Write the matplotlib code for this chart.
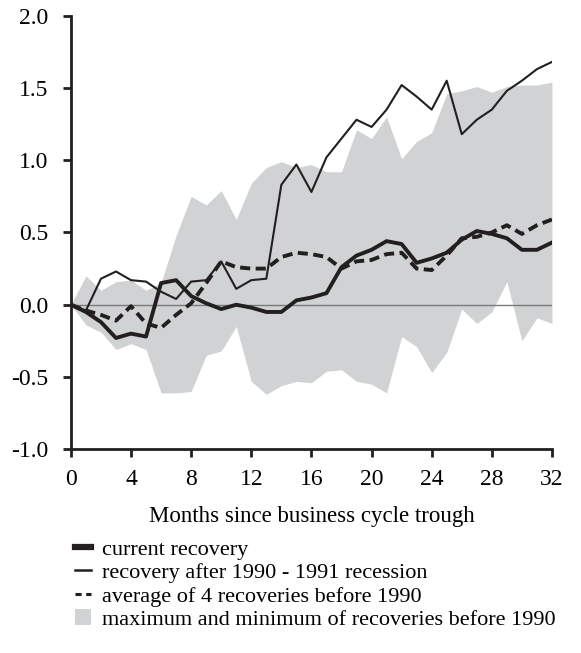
import matplotlib.pyplot as plt
from matplotlib.patches import Patch
from matplotlib.lines import Line2D

plt.rcParams['font.family'] = ['Liberation Serif', 'DejaVu Serif']

# Data
months = list(range(33))

current = [0.0, -0.05, -0.12, -0.23, -0.20, -0.22, 0.15, 0.17, 0.06, 0.01, -0.03, 0.0, -0.02,
           -0.05, -0.05, 0.03, 0.05, 0.08, 0.26, 0.34, 0.38, 0.44, 0.42, 0.29, 0.32, 0.36,
           0.45, 0.51, 0.49, 0.46, 0.38, 0.38, 0.43]

recovery_1990 = [0.0, -0.04, 0.18, 0.23, 0.17, 0.16, 0.09, 0.04, 0.16, 0.17, 0.30, 0.11, 0.17,
                 0.18, 0.83, 0.97, 0.78, 1.02, 1.15, 1.28, 1.23, 1.35, 1.52, 1.44, 1.35, 1.55,
                 1.18, 1.28, 1.35, 1.48, 1.55, 1.63, 1.68]

average_4 = [0.0, -0.04, -0.07, -0.11, -0.01, -0.13, -0.16, -0.07, 0.01, 0.15, 0.30, 0.26, 0.25,
             0.25, 0.33, 0.36, 0.35, 0.33, 0.25, 0.30, 0.31, 0.35, 0.36, 0.25, 0.24, 0.34,
             0.46, 0.47, 0.50, 0.55, 0.49, 0.55, 0.59]

band_max = [0.0, 0.20, 0.10, 0.16, 0.17, 0.10, 0.15, 0.48, 0.75, 0.69, 0.79, 0.59, 0.84,
            0.95, 0.99, 0.95, 0.97, 0.92, 0.92, 1.21, 1.15, 1.30, 1.01, 1.13, 1.19, 1.46,
            1.48, 1.51, 1.47, 1.51, 1.52, 1.52, 1.54]

band_min = [0.0, -0.14, -0.19, -0.31, -0.27, -0.31, -0.61, -0.61, -0.60, -0.35, -0.32, -0.15, -0.53,
            -0.62, -0.56, -0.53, -0.54, -0.46, -0.45, -0.53, -0.55, -0.61, -0.22, -0.29, -0.47, -0.33,
            -0.03, -0.13, -0.05, 0.16, -0.25, -0.09, -0.13]

x_ticks = [0, 4, 8, 12, 16, 20, 24, 28, 32]
y_ticks = [-1.0, -0.5, 0.0, 0.5, 1.0, 1.5, 2.0]

INK = '#231f20'
GRAY = '#d1d2d4'

fig = plt.figure(figsize=(5.81, 6.53), dpi=100)
ax = fig.add_axes([0.122, 0.312, 0.828, 0.664])

ax.fill_between(months, band_min, band_max, color=GRAY, linewidth=0)
ax.axhline(0, color='#7a7a7a', linewidth=1.0, zorder=2)
ax.plot(months, recovery_1990, color=INK, linewidth=1.5, zorder=3)
ax.plot(months, average_4, color=INK, linewidth=2.8, linestyle=(0, (2.6, 1.4)), zorder=3)
ax.plot(months, current, color=INK, linewidth=2.8, zorder=4)

ax.set_xlim(0, 32)
ax.set_ylim(-1.0, 2.0)
ax.set_xticks(x_ticks)
ax.set_yticks(y_ticks)
ax.set_yticklabels(['%.1f' % v for v in y_ticks])
ax.set_xlabel('Months since business cycle trough', fontsize=16.5, labelpad=12)

for side in ['top', 'right']:
    ax.spines[side].set_visible(False)
for side in ['left', 'bottom']:
    ax.spines[side].set_linewidth(2.0)
    ax.spines[side].set_color(INK)
ax.tick_params(direction='out', length=6, width=2.0, color=INK, labelsize=17)
ax.tick_params(axis='x', pad=8)
ax.tick_params(axis='y', pad=10)

# Legend below the chart
handles = [
    Line2D([], [], color=INK, linewidth=4.5),
    Line2D([], [], color=INK, linewidth=1.8),
    Line2D([], [], color=INK, linewidth=2.2, linestyle=(0, (2, 1.5))),
    Patch(facecolor=GRAY, edgecolor='none'),
]
labels = ['current recovery',
          'recovery after 1990 - 1991 recession',
          'average of 4 recoveries before 1990',
          'maximum and minimum of recoveries before 1990']
fig.legend(handles, labels, loc='upper left', bbox_to_anchor=(0.129, 0.174),
           bbox_transform=fig.transFigure, frameon=False, fontsize=16,
           handlelength=0.7, handletextpad=0.5, labelspacing=0.125, borderpad=0,
           borderaxespad=0)

fig.savefig('out.png', dpi=100)
